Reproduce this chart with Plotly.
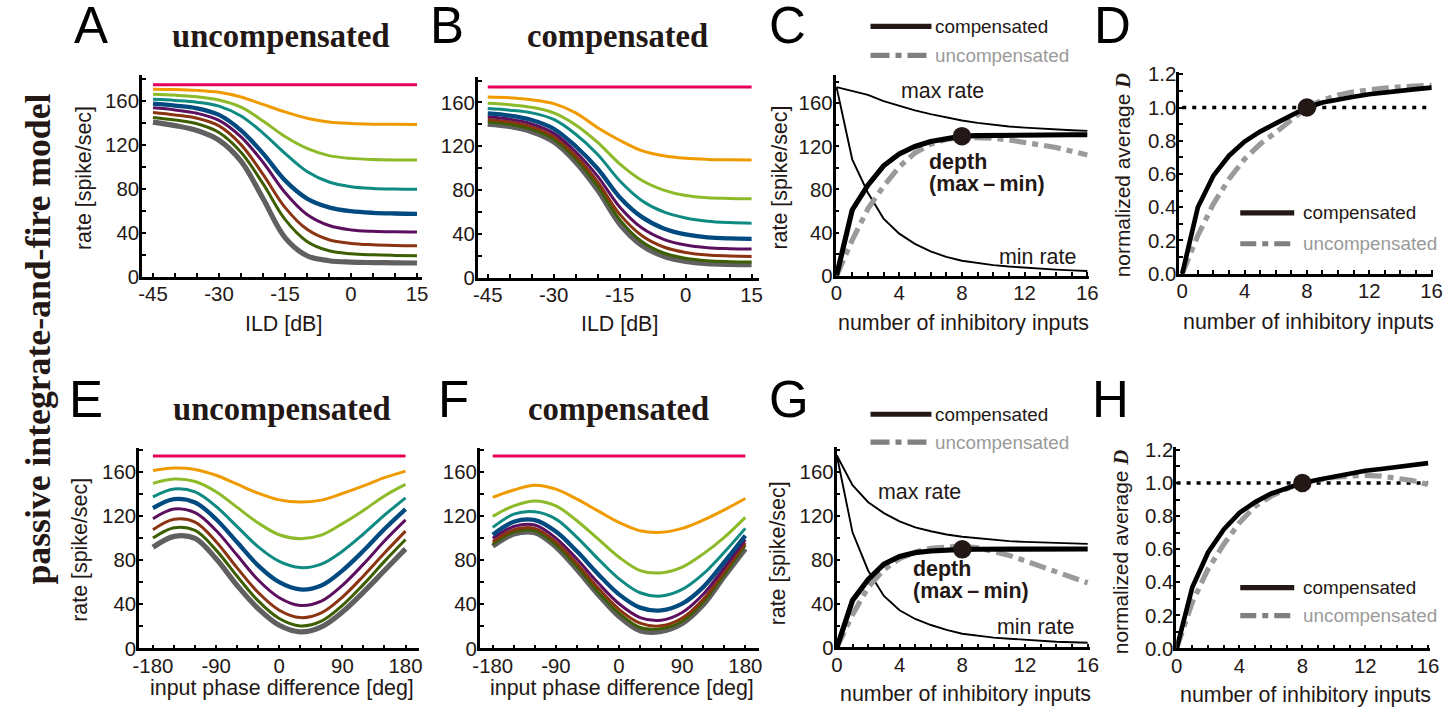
import plotly.graph_objects as go

W, H = 1456, 713
# The photographed page shows the figure slightly shrunk and shifted
# (about 0.989 x 0.975, +8 px); positions are read off the reference in
# picture pixels and mapped back through that transform.
BX, OX = 0.989, 7.9
BY, OY = 0.975, 8.5
K = 1.02  # font / width compensation for the shrink

SANS = "Liberation Sans, Arial, Helvetica, sans-serif"
SERIF = "Liberation Serif, Times New Roman, serif"
TXT = "#231815"
GRAYDASH = "#9a9a9a"
DASHDOT = "17px,6px,6px,6px"


def PX(px):
    return ((px - OX) / BX) / W


def PY(py):
    return 1 - ((py - OY) / BY) / H


# ---------------- data ----------------
ild_db = [-45, -40, -35, -30, -25, -20, -15, -10, -5, 0, 5, 10, 15]
phase_deg = [-180, -150, -120, -90, -60, -30, 0, 30, 60, 90, 120, 150, 180]
n_inputs = [0, 1, 2, 3, 4, 5, 6, 7, 8, 9, 10, 11, 12, 13, 14, 15, 16]

ild_ticks = [-45, -30, -15, 0, 15]
ild_ticktext = ["-45", "-30", "-15", "0", "15"]
phase_ticks = [-180, -90, 0, 90, 180]
phase_ticktext = ["-180", "-90", "0", "90", "180"]
rate_ticks = [0, 40, 80, 120, 160]
rate_ticktext = ["0", "40", "80", "120", "160"]
n_ticks = [0, 4, 8, 12, 16]
n_ticktext = ["0", "4", "8", "12", "16"]
d_ticks = [0.0, 0.2, 0.4, 0.6, 0.8, 1.0, 1.2]
d_ticktext = ["0.0", "0.2", "0.4", "0.6", "0.8", "1.0", "1.2"]

curve_colors = ["#e6005a", "#ef9b00", "#8cba28", "#0f8a82", "#004a80",
                "#5c0f5e", "#8b3412", "#3d5f02", "#606060"]
curve_widths = [3, 3, 3, 3, 4.3, 3, 3, 3, 5.2]

# Panel A: uncompensated, ILD
a_pink = [174.5, 174.5, 174.5, 174.5, 174.5, 174.5, 174.5, 174.5, 174.5, 174.5, 174.5, 174.5, 174.5]
a_orange = [170.4, 170.1, 169.3, 167.5, 163.3, 156.5, 149.7, 144.0, 140.6, 139.2, 138.6, 138.4, 138.3]
a_lgreen = [165.8, 165.0, 163.5, 160.5, 154.0, 141.5, 127.3, 116.5, 110.0, 107.5, 106.5, 106.1, 106.0]
a_teal = [161.2, 160.2, 158.6, 155.0, 146.0, 130.5, 112.0, 95.5, 86.0, 81.8, 80.2, 79.6, 79.4]
a_blue = [157.3, 155.5, 153.0, 147.0, 133.0, 112.0, 87.5, 71.0, 63.0, 59.5, 58.0, 57.4, 57.1]
a_purple = [153.4, 151.5, 148.5, 142.0, 127.0, 104.0, 76.5, 56.5, 46.5, 42.5, 41.2, 40.7, 40.5]
a_brown = [149.2, 147.0, 144.0, 137.0, 120.0, 93.0, 63.0, 43.0, 33.5, 30.2, 29.0, 28.4, 28.1]
a_dgreen = [144.7, 142.3, 139.0, 131.0, 113.0, 84.5, 52.0, 32.0, 23.5, 20.8, 19.8, 19.3, 19.0]
a_gray = [140.5, 137.3, 132.8, 124.0, 105.0, 71.0, 35.5, 19.0, 14.5, 13.2, 12.8, 12.6, 12.4]

# Panel B: compensated, ILD
b_pink = [174.2, 174.2, 174.2, 174.2, 174.2, 174.2, 174.2, 174.2, 174.2, 174.2, 174.2, 174.2, 174.2]
b_orange = [165.0, 164.3, 162.5, 159.0, 150.5, 137.0, 125.5, 116.0, 111.3, 109.0, 108.0, 107.6, 107.5]
b_lgreen = [159.2, 158.0, 155.5, 150.5, 139.5, 123.5, 104.0, 89.0, 80.0, 75.0, 73.0, 72.4, 72.1]
b_teal = [154.5, 153.0, 150.5, 144.5, 131.0, 112.5, 88.5, 70.5, 60.0, 54.5, 51.5, 50.3, 49.8]
b_blue = [150.0, 148.0, 144.0, 136.0, 120.0, 99.5, 73.5, 55.5, 45.0, 39.5, 36.8, 35.8, 35.5]
b_purple = [146.9, 144.8, 140.5, 132.0, 115.0, 92.5, 64.5, 45.5, 35.0, 29.8, 27.4, 26.5, 26.1]
b_brown = [144.5, 142.3, 137.8, 129.0, 111.5, 87.5, 58.0, 38.5, 28.0, 23.0, 20.6, 19.8, 19.4]
b_dgreen = [142.4, 140.1, 135.5, 126.5, 108.5, 83.5, 53.0, 33.0, 22.5, 17.7, 15.4, 14.6, 14.3]
b_gray = [140.3, 138.0, 133.3, 124.0, 105.5, 80.0, 49.0, 29.5, 19.5, 14.8, 12.8, 12.1, 11.8]

# Panel C: ILD rates vs number of inhibitory inputs
c_max_rate = [175, 171.5, 167.8, 162, 157.5, 153.5, 150, 147, 144, 141.8, 140, 138.5, 137.4, 136.4, 135.6, 135, 134.4]
c_min_rate = [175, 108, 77, 53, 39, 29.5, 22.5, 17.5, 13.8, 11.5, 9.8, 8.5, 7.4, 6.5, 5.6, 4.9, 4.3]
c_depth_comp = [0, 61, 84, 102, 113, 120, 124.5, 127.5, 129.5, 130, 130.3, 130.5, 130.6, 130.7, 130.8, 130.8, 130.8]
c_depth_unc = [0, 33, 62, 83, 101, 114, 122, 126.5, 128.5, 128.5, 127.5, 126, 124, 121.5, 119, 115.5, 112]

# Panel D: normalized average depth
d_comp = [0, 0.40, 0.59, 0.71, 0.795, 0.855, 0.905, 0.955, 1.0, 1.03, 1.05, 1.065, 1.08, 1.092, 1.102, 1.111, 1.12]
d_unc = [0, 0.23, 0.42, 0.57, 0.69, 0.78, 0.85, 0.93, 1.0, 1.045, 1.075, 1.095, 1.108, 1.117, 1.124, 1.129, 1.134]
ref_level = [1.0, 1.0]
ref_n = [0, 16]
marker_n = [8]

# Panel E: uncompensated, phase
e_pink = [174.3, 174.3, 174.3, 174.3, 174.3, 174.3, 174.3, 174.3, 174.3, 174.3, 174.3, 174.3, 174.3]
e_orange = [161.3, 163.5, 162.2, 156.9, 148.8, 140.7, 134.6, 132.6, 134.4, 140.4, 147.3, 154.8, 160.7]
e_lgreen = [149.6, 153.5, 151.3, 142.0, 127.8, 113.7, 103.0, 99.5, 102.7, 113.1, 125.1, 138.2, 148.6]
e_teal = [137.3, 144.4, 141.8, 128.6, 110.4, 92.1, 79.0, 73.3, 76.5, 88.1, 103.7, 120.8, 136.5]
e_blue = [127.2, 135.3, 132.3, 117.1, 96.2, 75.1, 60.1, 53.5, 57.1, 70.6, 88.5, 108.2, 126.2]
e_purple = [117.6, 126.3, 123.0, 106.9, 84.5, 62.0, 46.0, 39.0, 42.9, 57.2, 76.4, 97.4, 116.5]
e_brown = [107.6, 117.0, 114.5, 96.7, 73.0, 50.7, 34.7, 28.0, 32.3, 46.6, 65.7, 86.5, 106.3]
e_dgreen = [100.0, 109.4, 106.9, 89.1, 65.4, 43.1, 27.1, 20.4, 24.7, 39.0, 58.1, 78.9, 98.7]
e_gray = [91.7, 101.6, 99.8, 81.2, 57.1, 36.1, 21.0, 15.0, 19.6, 33.1, 51.1, 70.6, 90.2]

# Panel F: compensated, phase
f_pink = [174.3, 174.3, 174.3, 174.3, 174.3, 174.3, 174.3, 174.3, 174.3, 174.3, 174.3, 174.3, 174.3]
f_orange = [136.8, 143.6, 147.9, 144.3, 135.3, 124.7, 114.2, 106.7, 105.2, 108.8, 116.3, 125.6, 135.9]
f_lgreen = [119.7, 129.2, 133.7, 129.2, 115.7, 99.2, 82.7, 70.6, 68.5, 73.7, 85.7, 100.7, 118.8]
f_teal = [109.7, 121.7, 123.8, 117.2, 100.7, 81.2, 63.1, 50.5, 47.5, 53.5, 67.6, 87.2, 108.8]
f_blue = [103.1, 114.8, 116.3, 106.0, 88.0, 67.5, 49.0, 37.0, 34.5, 40.6, 55.6, 78.2, 102.2]
f_purple = [99.8, 110.5, 111.8, 100.0, 81.0, 59.5, 40.5, 28.0, 25.5, 32.6, 49.1, 73.2, 98.7]
f_brown = [96.8, 107.5, 108.8, 96.5, 77.0, 55.0, 35.5, 23.0, 20.5, 27.6, 44.6, 69.7, 95.7]
f_dgreen = [94.7, 105.4, 106.7, 94.0, 74.0, 51.5, 32.0, 19.0, 18.0, 24.6, 42.1, 67.2, 93.7]
f_gray = [92.6, 103.6, 104.9, 92.0, 71.5, 49.0, 29.0, 16.0, 15.5, 22.6, 39.6, 65.2, 90.2]

# Panel G: IPD rates vs number of inhibitory inputs
g_max_rate = [175, 148, 132.5, 122.5, 115, 109.5, 106, 103, 101, 99.5, 98, 97, 96.3, 95.7, 95.2, 94.8, 94.5]
g_min_rate = [175, 105, 70, 47, 34, 26, 20.5, 16, 12.5, 10.5, 9, 8, 7, 6, 5.3, 4.8, 4.3]
g_depth_comp = [0, 43, 62, 76, 83, 86.5, 88, 89, 89.5, 89.6, 89.7, 89.7, 89.8, 89.8, 89.8, 89.8, 89.8]
g_depth_unc = [0, 30, 55, 71, 81, 87, 90.5, 92, 92.5, 91, 88, 84, 79, 74, 69, 64, 59]

# Panel H: normalized average depth
h_comp = [0, 0.37, 0.58, 0.72, 0.82, 0.885, 0.935, 0.97, 1.0, 1.02, 1.04, 1.058, 1.074, 1.085, 1.096, 1.108, 1.12]
h_unc = [0, 0.28, 0.48, 0.63, 0.76, 0.86, 0.92, 0.965, 1.0, 1.02, 1.035, 1.042, 1.046, 1.042, 1.032, 1.015, 0.99]

# ---------------- figure ----------------
fig = go.Figure()

AX = dict(showline=True, linecolor="black", linewidth=2.7, ticks="inside", ticklen=4,
          tickwidth=1.6, tickcolor="black", showgrid=False, zeroline=False, fixedrange=True,
          tickfont=dict(family=SANS, size=20 * K, color=TXT))
MINOR = dict(ticks="inside", ticklen=4, tickwidth=1.6, tickcolor="black", showgrid=False)


def add_axes(idx, xpx, xr, ypx, yr, xt, xtt, xminor, yt, ytt, yminor):
    xa = "xaxis" if idx == 1 else "xaxis%d" % idx
    ya = "yaxis" if idx == 1 else "yaxis%d" % idx
    xref = "x" if idx == 1 else "x%d" % idx
    yref = "y" if idx == 1 else "y%d" % idx
    fig.update_layout(**{
        xa: dict(AX, domain=[PX(xpx[0]), PX(xpx[1])], range=list(xr), anchor=yref,
                 tickmode="array", tickvals=xt, ticktext=xtt, ticklabelstandoff=-3,
                 minor=dict(MINOR, tickmode="linear", tick0=0, dtick=xminor)),
        ya: dict(AX, domain=[PY(ypx[1]), PY(ypx[0])], range=list(yr), anchor=xref,
                 tickmode="array", tickvals=yt, ticktext=ytt, ticklabelstandoff=-4,
                 minor=dict(MINOR, tickmode="linear", tick0=0, dtick=yminor)),
    })
    return xref, yref


def line(x, y, ax, color, width, dash=None, shape="linear"):
    fig.add_trace(go.Scatter(x=x, y=y, mode="lines", xaxis=ax[0], yaxis=ax[1],
                             line=dict(color=color, width=width, dash=dash, shape=shape),
                             showlegend=False, hoverinfo="skip"))


def dot(x, y, ax):
    fig.add_trace(go.Scatter(x=x, y=y, mode="markers", xaxis=ax[0], yaxis=ax[1],
                             marker=dict(color=TXT, size=18.5), showlegend=False, hoverinfo="skip"))


axA = add_axes(1, (143, 423), (-47.5, 16.1), (75, 277), (0, 183),
               ild_ticks, ild_ticktext, 5, rate_ticks, rate_ticktext, 20)
axB = add_axes(2, (479, 760), (-47.27, 16.59), (77, 278), (0, 183),
               ild_ticks, ild_ticktext, 5, rate_ticks, rate_ticktext, 20)
axC = add_axes(3, (837, 1091), (-0.064, 16.13), (75, 276), (0, 186),
               n_ticks, n_ticktext, 1, rate_ticks, rate_ticktext, 20)
axD = add_axes(4, (1181, 1435), (-0.19, 16.1), (72, 274), (0, 1.212),
               n_ticks, n_ticktext, 1, d_ticks, d_ticktext, 0.1)
axE = add_axes(5, (140, 420), (-199.9, 198.96), (449, 650), (0, 181.5),
               phase_ticks, phase_ticktext, 30, rate_ticks, rate_ticktext, 20)
axF = add_axes(6, (481, 760), (-198.5, 198.9), (449, 650), (0, 181.5),
               phase_ticks, phase_ticktext, 30, rate_ticks, rate_ticktext, 20)
axG = add_axes(7, (838, 1092), (-0.02, 16.17), (448, 649), (0, 182.7),
               n_ticks, n_ticktext, 1, rate_ticks, rate_ticktext, 20)
axH = add_axes(8, (1178, 1432), (-0.02, 16.13), (448, 650), (0, 1.217),
               n_ticks, n_ticktext, 1, d_ticks, d_ticktext, 0.1)

families = [
    (axA, ild_db, [a_pink, a_orange, a_lgreen, a_teal, a_blue, a_purple, a_brown, a_dgreen, a_gray]),
    (axB, ild_db, [b_pink, b_orange, b_lgreen, b_teal, b_blue, b_purple, b_brown, b_dgreen, b_gray]),
    (axE, phase_deg, [e_pink, e_orange, e_lgreen, e_teal, e_blue, e_purple, e_brown, e_dgreen, e_gray]),
    (axF, phase_deg, [f_pink, f_orange, f_lgreen, f_teal, f_blue, f_purple, f_brown, f_dgreen, f_gray]),
]
for ax, xs, series in families:
    for ys, col, wd in reversed(list(zip(series, curve_colors, curve_widths))):
        line(xs, ys, ax, col, wd, shape="spline")

for ax, mx, mn, dc, du in [(axC, c_max_rate, c_min_rate, c_depth_comp, c_depth_unc),
                           (axG, g_max_rate, g_min_rate, g_depth_comp, g_depth_unc)]:
    line(n_inputs, mx, ax, "black", 1.9)
    line(n_inputs, mn, ax, "black", 1.9)
    line(n_inputs, du, ax, GRAYDASH, 5.2, dash=DASHDOT)
    line(n_inputs, dc, ax, "black", 5.2)
    dot(marker_n, [dc[8]], ax)

for ax, dc, du in [(axD, d_comp, d_unc), (axH, h_comp, h_unc)]:
    line(ref_n, ref_level, ax, "black", 3.6, dash="4px,6px")
    line(n_inputs, du, ax, GRAYDASH, 5.2, dash=DASHDOT)
    line(n_inputs, dc, ax, "black", 4.7)
    dot(marker_n, [dc[8]], ax)

# ---------------- text ----------------
annotations = []
shapes = []


def ann(text, x, y, size, family=SANS, color=TXT, xanchor="center", angle=0):
    annotations.append(dict(text=text, x=PX(x), y=PY(y), xref="paper", yref="paper",
                            showarrow=False, xanchor=xanchor, yanchor="middle", textangle=angle,
                            font=dict(family=family, size=size * K, color=color)))


for letter, x, y in [("A", 92, 25), ("B", 448, 25), ("C", 789, 25), ("D", 1114, 25),
                     ("E", 87, 400), ("F", 455, 400), ("G", 790, 400), ("H", 1112, 400)]:
    ann(letter, x, y, 50, color="black")

for t, x, y in [("uncompensated", 282.5, 36), ("compensated", 618.5, 36),
                ("uncompensated", 283, 410), ("compensated", 619.5, 410)]:
    ann("<b>%s</b>" % t, x, y, 32, family=SERIF)

ann("<b>passive integrate-and-fire model</b>", 39, 340, 35, family=SERIF, angle=-90)

for t, x, y in [("rate [spike/sec]", 85, 178), ("rate [spike/sec]", 781, 178),
                ("rate [spike/sec]", 81, 551), ("rate [spike/sec]", 779, 555)]:
    ann(t, x, y, 21, angle=-90)
dlabel = 'normalized average <span style="font-family:Liberation Serif"><b><i>D</i></b></span>'
ann(dlabel, 1125, 175, 20.5, angle=-90)
ann(dlabel, 1122, 553, 20.5, angle=-90)

for t, x, y in [("ILD [dB]", 285, 324), ("ILD [dB]", 621, 324),
                ("number of inhibitory inputs", 965, 323), ("number of inhibitory inputs", 1310, 322),
                ("input phase difference [deg]", 283, 690), ("input phase difference [deg]", 623, 690),
                ("number of inhibitory inputs", 967, 696), ("number of inhibitory inputs", 1307, 697)]:
    ann(t, x, y, 21)

ann("max rate", 944, 91, 21)
ann("min rate", 1039.5, 257, 21)
ann("<b>depth</b>", 929, 162, 21, xanchor="left")
ann("<b>(max\u2009\u2013\u2009min)</b>", 929, 184, 21, xanchor="left")
ann("max rate", 921, 493, 21)
ann("min rate", 1037.5, 628, 21)
ann("<b>depth</b>", 913, 570, 21, xanchor="left")
ann("<b>(max\u2009\u2013\u2009min)</b>", 913, 592, 21, xanchor="left")


def legend_block(x0, x1, xt, y_comp, y_unc, dash):
    shapes.append(dict(type="line", xref="paper", yref="paper", x0=PX(x0), x1=PX(x1),
                       y0=PY(y_comp), y1=PY(y_comp), line=dict(color=TXT, width=5.2)))
    shapes.append(dict(type="line", xref="paper", yref="paper", x0=PX(x0), x1=PX(x1),
                       y0=PY(y_unc), y1=PY(y_unc),
                       line=dict(color="#808080", width=5.2, dash=dash)))
    ann("compensated", xt, y_comp, 18.5, xanchor="left")
    ann("uncompensated", xt, y_unc, 18.5, color="#9a9a9a", xanchor="left")


legend_block(872, 933, 935, 26, 55, "19px,6px,6px,6px")
legend_block(872, 933, 935, 415, 443, "19px,6px,6px,6px")
legend_block(1242, 1296, 1303, 213, 244, "16px,6px,6px,6px")
legend_block(1242, 1296, 1303, 589, 617, "16px,6px,6px,6px")

fig.update_layout(width=W, height=H, autosize=False, margin=dict(l=0, r=0, t=0, b=0),
                  paper_bgcolor="white", plot_bgcolor="white",
                  annotations=annotations, shapes=shapes, showlegend=False)

fig.write_html("out.html", config={"displayModeBar": False},
               post_script="document.body.style.margin='0';document.body.style.overflow='hidden';")
